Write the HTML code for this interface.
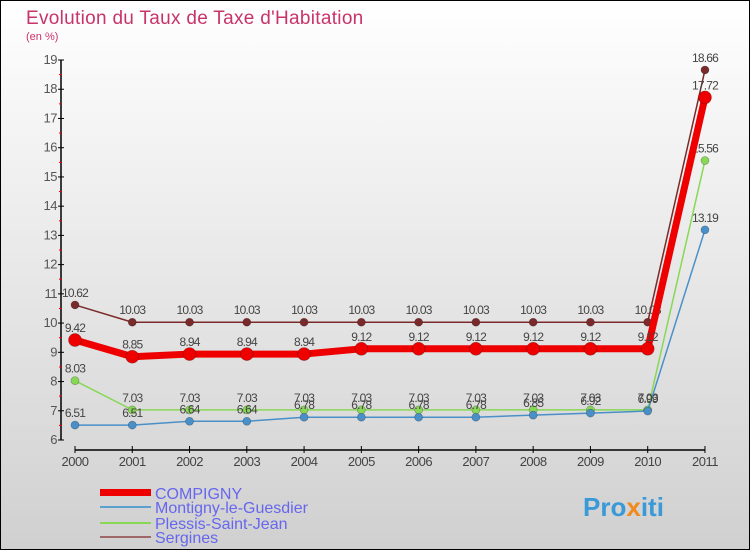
<!DOCTYPE html>
<html><head><meta charset="utf-8"><style>
body{margin:0}
#c{width:750px;height:550px;position:relative;font-family:"Liberation Sans",sans-serif}
</style></head><body>
<div id="c">
<svg id="s" width="750" height="550" xmlns="http://www.w3.org/2000/svg">
<defs><linearGradient id="bg" x1="0" y1="0" x2="0" y2="1"><stop offset="0" stop-color="#ffffff"/><stop offset="1" stop-color="#d0d0d0"/></linearGradient></defs>
<rect x="0.5" y="0.5" width="749" height="549" fill="url(#bg)" stroke="#000"/>
<text x="26" y="24" font-size="19" font-weight="300" letter-spacing="0.3" fill="#c8336a">Evolution du Taux de Taxe d'Habitation</text>
<text x="26" y="40" font-size="11" fill="#c8336a">(en %)</text>
<g id="axes"></g><g id="series"></g>
<g>
<rect x="100" y="489" width="51" height="7" fill="#ee0000"/>
<text x="155" y="499" font-size="16" fill="#6666ee">COMPIGNY</text>
<line x1="100" y1="507" x2="151" y2="507" stroke="#5ca0d0" stroke-width="2"/>
<text x="155" y="513" font-size="16" fill="#6666ee">Montigny-le-Guesdier</text>
<line x1="100" y1="523" x2="151" y2="523" stroke="#88d855" stroke-width="2"/>
<text x="155" y="529" font-size="16" fill="#6666ee">Plessis-Saint-Jean</text>
<line x1="100" y1="537" x2="151" y2="537" stroke="#a06868" stroke-width="2"/>
<text x="155" y="543" font-size="16" fill="#6666ee">Sergines</text>
</g>
<text x="583" y="516" font-size="26" font-weight="bold" fill="#3a9ad8">Pro<tspan fill="#f08a1c">x</tspan>iti</text>
</svg>
</div>
<script>
const years=["2000","2001","2002","2003","2004","2005","2006","2007","2008","2009","2010","2011"];
const yTicks=[6,7,8,9,10,11,12,13,14,15,16,17,18,19];
const compigny=[9.42,8.85,8.94,8.94,8.94,9.12,9.12,9.12,9.12,9.12,9.12,17.72];
const montigny=[6.51,6.51,6.64,6.64,6.78,6.78,6.78,6.78,6.85,6.92,6.99,13.19];
const plessis=[8.03,7.03,7.03,7.03,7.03,7.03,7.03,7.03,7.03,7.03,7.03,15.56];
const sergines=[10.62,10.03,10.03,10.03,10.03,10.03,10.03,10.03,10.03,10.03,10.03,18.66];
const NS="http://www.w3.org/2000/svg";
const X=i=>75+i*57.27;
const Y=v=>440-(v-6)*29.23;
function mk(t,a,p){const e=document.createElementNS(NS,t);for(const k in a)e.setAttribute(k,a[k]);p.appendChild(e);return e;}
const ax=document.getElementById('axes');
const yl=mk('line',{x1:61,y1:Y(19),x2:61,y2:440,stroke:'#000','stroke-width':1.5},ax);


const xl=mk('line',{x1:75,y1:450,x2:705,y2:450,stroke:'#000','stroke-width':1.5},ax);


yTicks.forEach(v=>{
 mk('line',{x1:58,y1:Y(v),x2:64,y2:Y(v),stroke:'#000'},ax);
 if(v<19)mk('line',{x1:59,y1:Y(v+0.5),x2:62,y2:Y(v+0.5),stroke:'#e00'},ax);
 const t=mk('text',{x:57,y:Y(v)+4,'font-size':13,fill:'#555','text-anchor':'end','letter-spacing':'-0.5'},ax);
 t.textContent=v;
 
 
});
years.forEach((y,i)=>{
 mk('line',{x1:X(i),y1:446,x2:X(i),y2:453,stroke:'#000'},ax);
 const t=mk('text',{x:X(i),y:466,'font-size':13,fill:'#444','text-anchor':'middle','letter-spacing':'-0.5'},ax);
 t.textContent=y;
 
 
});
const sg=document.getElementById('series');
function series(vals,color,w,r,name){
 const g=mk('g',{},sg);
 
 
 const pl=mk('polyline',{points:vals.map((v,i)=>X(i)+','+Y(v)).join(' '),fill:'none',stroke:color,'stroke-width':w,'stroke-linejoin':'round'},g);
 
 
 vals.forEach((v,i)=>{
  const c=mk('circle',{cx:X(i),cy:Y(v),r:r,fill:color,stroke:'rgba(0,0,0,0.3)','stroke-width':0.7},g);
  
  
  const t=mk('text',{x:X(i),y:Y(v)-8,'font-size':12,fill:'#444','text-anchor':'middle','letter-spacing':'-0.8'},g);
  t.textContent=v.toFixed(2);
  
  
 });
}
series(sergines,'#7a2a2a',1.5,4,'sergines');
series(plessis,'#88d855',1.5,4,'plessis');
series(montigny,'#4a90c8',1.5,4,'montigny');
series(compigny,'#ee0000',7,6.5,'compigny');
</script>
</body></html>
